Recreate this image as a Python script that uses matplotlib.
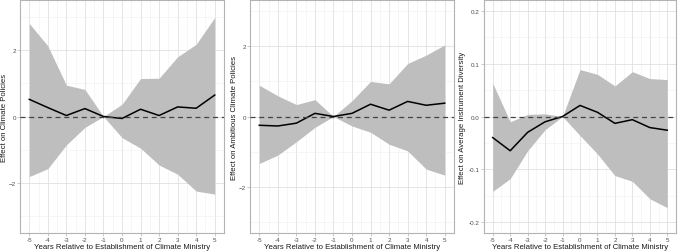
import numpy as np
import matplotlib
matplotlib.use('Agg')
import matplotlib.pyplot as plt
from matplotlib.ticker import MultipleLocator

plt.rcParams['font.family'] = ['Liberation Sans', 'DejaVu Sans']

years = [-5, -4, -3, -2, -1, 0, 1, 2, 3, 4, 5]

# effect on climate policies
est_policies = [0.52, 0.27, 0.03, 0.24, 0.0, -0.06, 0.22, 0.03, 0.29, 0.25, 0.65]
hi_policies = [2.82, 2.14, 0.95, 0.82, 0.0, 0.37, 1.15, 1.16, 1.81, 2.19, 3.0]
lo_policies = [-1.82, -1.58, -0.86, -0.33, 0.0, -0.64, -0.96, -1.47, -1.75, -2.26, -2.35]

# effect on ambitious climate policies
est_ambitious = [-0.25, -0.27, -0.19, 0.09, 0.0, 0.09, 0.35, 0.18, 0.43, 0.32, 0.38]
hi_ambitious = [0.89, 0.59, 0.34, 0.48, 0.0, 0.45, 1.0, 0.93, 1.51, 1.75, 2.04]
lo_ambitious = [-1.34, -1.1, -0.72, -0.31, 0.0, -0.27, -0.45, -0.79, -0.98, -1.5, -1.67]

# effect on average instrument diversity
est_diversity = [-0.040, -0.065, -0.030, -0.010, 0.0, 0.021, 0.008, -0.013, -0.006, -0.021, -0.026]
hi_diversity = [0.063, -0.010, 0.004, 0.005, 0.0, 0.089, 0.080, 0.058, 0.085, 0.072, 0.070]
lo_diversity = [-0.142, -0.118, -0.065, -0.025, 0.0, -0.036, -0.071, -0.112, -0.123, -0.156, -0.173]

panels = [
    (est_policies, hi_policies, lo_policies, 'Effect on Climate Policies', 3.53, [-2, 0, 2], 1),
    (est_ambitious, hi_ambitious, lo_ambitious, 'Effect on Ambitious Climate Policies', 3.32, [-2, 0, 2], 1),
    (est_diversity, hi_diversity, lo_diversity, 'Effect on Average Instrument Diversity', 0.221,
     [-0.2, -0.1, 0.0, 0.1, 0.2], 0.05),
]
# axes boxes in pixels: left, right, ylabel centre x
boxes = [(20, 224, 5), (250, 454, 234), (484, 676, 463)]

W, H = 685, 253
fig = plt.figure(figsize=(W / 100, H / 100), dpi=100)

for (est, hi, lo, ylab, ylim, yticks, minor), (x0, x1, xl) in zip(panels, boxes):
    ax = fig.add_axes([x0 / W, 19 / H, (x1 - x0) / W, 233 / H])
    ax.fill_between(years, lo, hi, color='#bebebe', linewidth=0, zorder=2)
    ax.plot(years, est, color='black', linewidth=1.1, zorder=3)
    ax.axhline(0, color='#444444', linestyle=(0, (4, 3)), linewidth=0.9, zorder=4)

    ax.set_xlim(-5.5, 5.5)
    ax.set_ylim(-ylim, ylim)
    ax.set_xticks(years)
    ax.set_xticklabels([str(y) for y in years])
    ax.xaxis.set_minor_locator(MultipleLocator(0.5))
    ax.set_yticks(yticks)
    if minor < 1:
        ax.set_yticklabels(['%.1f' % t for t in yticks])
    ax.yaxis.set_minor_locator(MultipleLocator(minor))

    ax.grid(which='major', color='#e0e0e0', linewidth=0.6, zorder=0)
    ax.grid(which='minor', color='#efefef', linewidth=0.4, zorder=0)
    ax.set_axisbelow(True)
    for s in ax.spines.values():
        s.set_color('#b3b3b3')
        s.set_linewidth(0.8)
    ax.tick_params(which='major', length=2, width=0.5, color='#b3b3b3',
                   labelsize=4.5, labelcolor='#4d4d4d', pad=1)
    ax.tick_params(which='minor', length=0)
    ax.set_xlabel('Years Relative to Establishment of Climate Ministry',
                  fontsize=5.6, color='#1a1a1a', labelpad=0.5)
    ax.set_ylabel(ylab, fontsize=5.6, color='#1a1a1a', va='center')
    ax.yaxis.set_label_coords((xl - x0) / (x1 - x0), 0.5)

fig.savefig('out.png', dpi=100)
